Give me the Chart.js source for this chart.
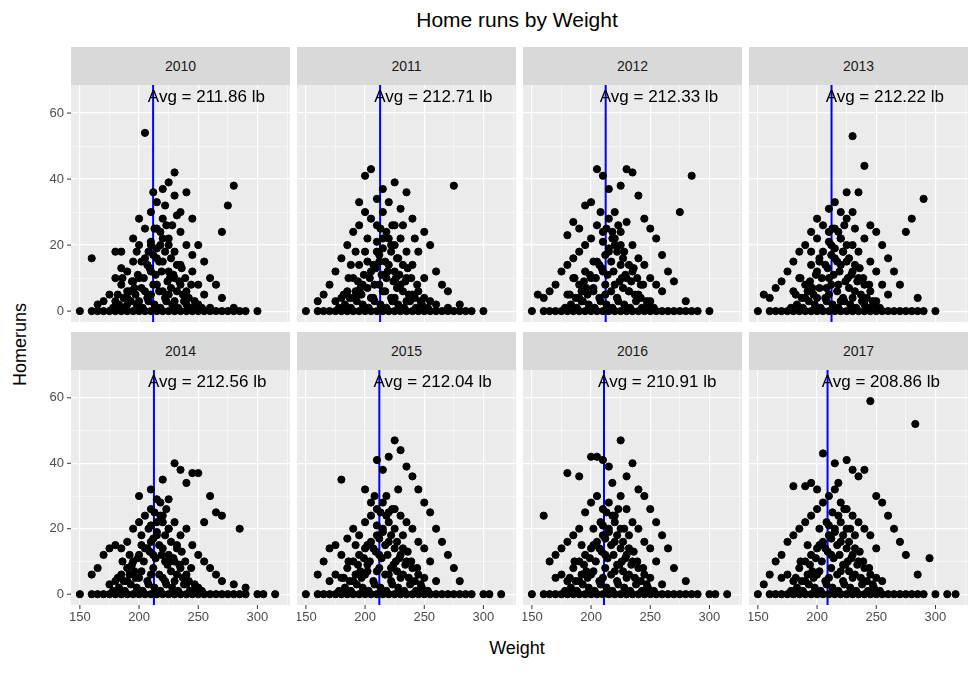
<!DOCTYPE html>
<html><head><meta charset="utf-8">
<script src="https://cdn.jsdelivr.net/npm/chart.js@4"></script>
<style>
body{margin:0;width:975px;height:675px;background:#fff;position:relative;font-family:"Liberation Sans",Arial,sans-serif;overflow:hidden}
.box{position:absolute}
.strip{position:absolute;background:#d9d9d9;color:#1a1a1a;font-size:14px;text-align:center;line-height:38px;height:38px;width:219px}
.t{position:absolute;color:#000}
</style></head><body>
<div class="t" style="left:0;width:1034px;top:8px;text-align:center;font-size:21px">Home runs by Weight</div>
<div class="t" style="left:0;width:1034px;top:638px;text-align:center;font-size:18px">Weight</div>
<div class="t" style="left:-30px;top:334px;width:100px;text-align:center;font-size:18px;transform:rotate(-90deg)">Homeruns</div>
<script>
const years=["2010","2011","2012","2013","2014","2015","2016","2017"];
const avgWeights=[211.86,212.71,212.33,212.22,212.56,212.04,210.91,208.86];
const xTicks=[150,200,250,300];
const yTicks=[0,20,40,60];
const zeros=[150,160,165,170,175,180,185,190,195,200,205,210,215,220,225,230,235,240,245,250,255,260,265,270,275,280,285,290,300];
const lowCore=[[178,1],[183,2],[188,1],[193,3],[198,2],[203,1],[208,3],[213,2],[218,1],[223,3],[228,2],[233,1],[238,3],[243,1],[248,2],[253,1],[182,5],[187,4],[192,6],[197,5],[202,7],[207,4],[212,8],[217,6],[222,4],[227,7],[232,6],[237,5],[242,4],[247,3],[194,9],[199,11],[204,10],[209,13],[214,11],[219,12],[224,9],[229,11],[234,9],[239,10],[202,15],[207,14],[212,17],[217,15],[222,18],[227,16],[232,14],[210,21],[215,19],[220,22],[225,20],[213,25],[218,24],[223,26],[196,7],[226,10],[236,13],[186,10],[244,8],[190,4]];
const p2010=[[205,54],[230,42],[225,39],[280,38],[240,36],[230,35],[275,32],[270,24],[160,16],[180,18],[185,18],[195,22],[200,28],[210,30],[215,33],[220,37],[235,30],[245,28],[250,20],[255,15],[260,10],[265,8],[270,4],[175,5],[170,3],[165,2],[190,12],[195,15],[200,20],[205,25],[210,20],[215,25],[220,28],[225,22],[230,18],[235,14],[240,20],[245,12],[250,8],[255,5],[185,8],[180,10],[190,6],[200,10],[210,12],[220,15],[230,10],[240,6],[205,16],[215,8],[225,12],[235,24],[200,3],[210,5],[220,6],[230,3],[240,2],[250,2],[260,1],[280,1],[190,2],[180,3],[185,13],[195,9],[205,6],[215,16],[225,5],[235,8],[245,17],[228,26],[218,20],[208,18],[198,18],[212,36],[222,32],[232,29]];
const p2011=[[205,43],[200,41],[225,39],[215,37],[275,38],[235,36],[195,33],[210,34],[230,31],[240,28],[250,24],[255,20],[260,12],[265,8],[270,6],[280,2],[170,8],[165,5],[160,3],[175,12],[180,16],[185,20],[190,24],[195,26],[200,30],[205,28],[210,26],[215,30],[220,33],[225,26],[230,22],[235,18],[240,14],[245,18],[250,10],[185,6],[190,10],[195,14],[200,18],[205,12],[210,18],[215,22],[220,14],[225,12],[230,8],[235,10],[240,5],[245,6],[250,4],[255,3],[260,2],[270,1],[180,4],[175,3],[195,5],[205,4],[215,6],[225,4],[235,3],[212,15],[222,20],[202,22],[232,26],[242,22],[192,18],[218,10],[208,8],[198,8],[228,16],[188,14]];
const p2012=[[205,43],[210,41],[230,43],[235,42],[285,41],[225,38],[215,37],[240,35],[200,33],[195,32],[275,30],[180,23],[185,27],[190,25],[220,30],[245,28],[250,25],[255,22],[260,17],[265,12],[270,9],[280,3],[155,5],[160,4],[165,6],[170,8],[175,12],[180,14],[185,16],[190,18],[195,20],[200,22],[205,26],[210,24],[215,28],[220,20],[225,24],[230,27],[235,20],[240,16],[245,14],[250,10],[255,8],[260,6],[200,10],[210,12],[220,8],[230,10],[240,5],[190,8],[180,5],[250,3],[205,15],[215,18],[225,14],[235,12],[195,12],[185,10],[212,5],[222,4],[232,6],[242,8],[202,6],[192,3],[228,18],[218,22],[208,30]];
const p2013=[[230,53],[240,44],[225,36],[235,36],[290,34],[215,33],[280,28],[210,31],[275,24],[195,24],[200,28],[220,30],[230,30],[245,26],[250,24],[255,20],[260,16],[265,12],[270,8],[285,4],[155,5],[160,4],[165,7],[170,9],[175,12],[180,15],[185,18],[190,20],[195,18],[200,22],[205,26],[210,24],[215,25],[220,22],[225,28],[230,20],[235,18],[240,22],[245,15],[250,12],[255,8],[260,5],[190,8],[200,12],[210,10],[220,14],[230,12],[240,8],[180,6],[185,10],[195,14],[205,18],[215,16],[225,15],[235,10],[245,6],[250,3],[200,4],[210,5],[220,3],[230,4],[240,2],[212,20],[222,18],[202,16],[232,25],[218,8],[208,7]];
const p2014=[[230,40],[235,38],[245,37],[250,37],[220,35],[210,32],[240,34],[260,30],[270,24],[285,20],[265,25],[200,30],[215,29],[225,29],[255,22],[160,6],[165,8],[170,12],[175,14],[180,15],[185,14],[190,16],[195,20],[200,22],[205,24],[210,26],[215,22],[220,24],[225,20],[230,22],[235,18],[240,20],[245,15],[250,12],[255,10],[260,8],[265,6],[270,4],[280,3],[290,2],[185,6],[190,8],[195,10],[200,12],[205,14],[210,16],[215,18],[220,14],[225,12],[230,10],[235,8],[240,6],[180,4],[175,3],[200,5],[210,6],[220,5],[230,4],[240,3],[250,2],[212,12],[222,10],[202,18],[232,15],[192,12],[218,28],[208,20]];
const p2015=[[225,47],[230,44],[220,42],[210,41],[215,38],[235,39],[240,36],[245,32],[180,35],[200,32],[205,28],[250,28],[255,25],[260,20],[265,16],[270,12],[275,8],[280,4],[160,6],[165,10],[170,14],[175,15],[180,12],[185,17],[190,20],[195,18],[200,22],[205,24],[210,26],[215,28],[220,25],[225,26],[230,24],[235,22],[240,20],[245,16],[250,14],[255,10],[185,8],[190,10],[195,12],[200,14],[205,16],[210,18],[215,20],[220,16],[225,14],[230,12],[235,10],[240,8],[245,6],[250,5],[260,4],[170,4],[175,6],[180,5],[200,6],[210,7],[220,6],[230,5],[212,12],[222,8],[202,9],[232,18],[192,15],[218,30],[208,30],[228,32]];
const p2016=[[225,47],[200,42],[205,42],[210,41],[215,39],[235,40],[230,36],[180,37],[190,36],[240,32],[245,30],[250,26],[255,22],[260,18],[265,14],[270,8],[280,4],[160,24],[165,10],[170,12],[175,14],[180,16],[185,18],[190,20],[195,25],[200,28],[205,30],[210,26],[215,28],[220,24],[225,30],[230,26],[235,22],[240,20],[245,16],[250,14],[255,10],[185,8],[190,10],[195,12],[200,14],[205,16],[210,18],[215,20],[220,16],[225,14],[230,12],[235,10],[240,8],[245,6],[250,5],[260,3],[170,5],[175,6],[180,4],[200,6],[210,5],[220,7],[230,5],[212,12],[222,9],[202,20],[232,18],[192,15],[218,34],[208,22],[228,20]];
const p2017=[[245,59],[283,52],[205,43],[215,40],[225,41],[230,38],[240,38],[235,36],[180,33],[190,33],[195,34],[200,32],[250,30],[255,28],[260,24],[265,20],[270,16],[275,12],[295,11],[285,6],[155,3],[160,6],[165,10],[170,12],[175,16],[180,18],[185,20],[190,22],[195,24],[200,26],[205,28],[210,30],[215,32],[220,28],[225,26],[230,24],[235,22],[240,20],[245,18],[250,14],[185,8],[190,10],[195,12],[200,14],[205,16],[210,18],[215,20],[220,16],[225,14],[230,12],[235,10],[240,8],[245,6],[250,5],[255,4],[170,5],[175,6],[180,4],[200,6],[210,5],[220,7],[230,5],[212,12],[222,9],[202,20],[232,18],[192,15],[218,34],[208,22],[228,20]];
const points=[p2010,p2011,p2012,p2013,p2014,p2015,p2016,p2017];

const colL=[71,297,523,749], rowT=[85,370], rowStrip=[47,332], PW=219, PH=[237,235];
years.forEach((yr,i)=>{
  const col=i%4,row=Math.floor(i/4);
  const s=document.createElement('div');s.className='strip';
  s.style.left=colL[col]+'px';s.style.top=rowStrip[row]+'px';s.textContent=yr;document.body.appendChild(s);
  const leftW=col===0?34:0, botH=row===1?30:0;
  const d=document.createElement('div');d.className='box';
  d.style.left=(colL[col]-leftW)+'px';d.style.top=rowT[row]+'px';
  d.style.width=(PW+leftW)+'px';d.style.height=(PH[row]+botH)+'px';
  const c=document.createElement('canvas');d.appendChild(c);document.body.appendChild(d);
  let zx=zeros.slice(); if(i>=4) zx=zx.concat(i===7?[310,317]:[305,315]);
  const data=points[i].concat(lowCore).map(p=>({x:p[0],y:p[1]})).concat(zx.map(x=>({x:x,y:0})));
  const avg=avgWeights[i];
  new Chart(c,{
    type:'scatter',
    data:{datasets:[
      {data:data,backgroundColor:'#000',borderColor:'#000',pointRadius:3.6,pointHoverRadius:3.6,clip:false},
      {type:'line',data:[{x:avg,y:-3.3},{x:avg,y:68.5}],borderColor:'#0000ff',borderWidth:2,pointRadius:0}
    ]},
    options:{responsive:true,maintainAspectRatio:false,animation:false,events:[],
      layout:{padding:0,autoPadding:false},
      plugins:{legend:{display:false},tooltip:{enabled:false}},
      scales:{
        x:{type:'linear',min:142.5,max:327.5,
          afterBuildTicks:s=>{s.ticks=[150,175,200,225,250,275,300,325].map(v=>({value:v}));},
          afterFit:s=>{s.height=botH;},
          border:{display:false},
          grid:{color:'#fff',lineWidth:ctx=>(ctx.tick&&xTicks.includes(ctx.tick.value))?1.2:0.5,drawTicks:false},
          ticks:{display:false}},
        y:{type:'linear',min:-3.3,max:68.5,
          afterBuildTicks:s=>{s.ticks=[0,10,20,30,40,50,60].map(v=>({value:v}));},
          afterFit:s=>{s.width=leftW;},
          border:{display:false},
          grid:{color:'#fff',lineWidth:ctx=>(ctx.tick&&yTicks.includes(ctx.tick.value))?1.2:0.5,drawTicks:false},
          ticks:{display:false}}
      }},
    plugins:[{id:'bg',beforeDraw(ch){const a=ch.chartArea,g=ch.ctx;g.save();g.fillStyle='#ebebeb';g.fillRect(a.left,a.top,a.right-a.left,a.bottom-a.top);g.restore();},
      afterDatasetsDraw(ch){const g=ch.ctx,a=ch.chartArea;g.save();
        g.font='17px "Liberation Sans"';g.fillStyle='#000';g.textAlign='center';g.textBaseline='middle';
        g.fillText('Avg = '+avg.toFixed(2)+' lb',ch.scales.x.getPixelForValue(avg+45),a.top+12);
        g.font='13px "Liberation Sans"';g.fillStyle='#4d4d4d';g.strokeStyle='#333';g.lineWidth=1;
        if(col===0){g.textAlign='right';yTicks.forEach(v=>{const y=ch.scales.y.getPixelForValue(v);
          g.fillText(String(v),a.left-7,y);g.beginPath();g.moveTo(a.left-4,y);g.lineTo(a.left,y);g.stroke();});}
        if(row===1){g.textAlign='center';g.textBaseline='top';xTicks.forEach(v=>{const x=ch.scales.x.getPixelForValue(v);
          g.fillText(String(v),x,a.bottom+6);g.beginPath();g.moveTo(x,a.bottom);g.lineTo(x,a.bottom+4);g.stroke();});}
        g.restore();}}]
  });
});
</script></body></html>
